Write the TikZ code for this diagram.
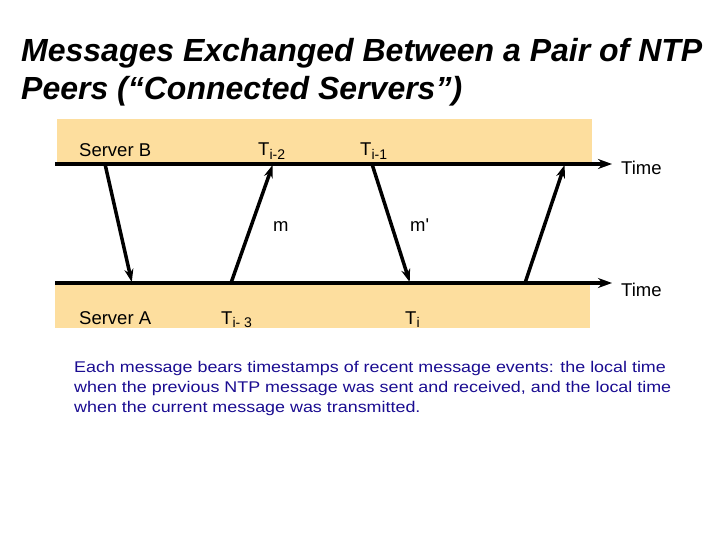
\documentclass[tikz,border=0pt]{standalone}
\usepackage{fontspec}
\setmainfont{Liberation Sans}
\setmonofont{Liberation Sans}
\newfontfamily\capfont[FakeStretch=1.155]{Liberation Sans}
\usetikzlibrary{arrows.meta}
\definecolor{band}{RGB}{253,222,158}
\definecolor{navy}{RGB}{26,12,145}
\begin{document}
\begin{tikzpicture}[x=1pt,y=-1pt,
  lbl/.style={inner sep=0pt,anchor=base west,font=\fontsize{18.5}{20}\selectfont},
  timeline/.style={line width=3.5pt,-{Stealth[length=14pt,width=10pt]}},
  msg/.style={line width=3.5pt,-{Stealth[length=13pt,width=9pt]},shorten >=1pt}]
\useasboundingbox (0,0) rectangle (720,540);
% title
\node[inner sep=0pt,anchor=base west,align=left,font=\fontsize{32}{38}\selectfont\bfseries\itshape] (title) at (21,100)
 {Messages Exchanged Between a Pair of NTP\\Peers (“Connected Servers”)};
% bands
\fill[band] (57,119) rectangle (592,164);
\fill[band] (55,283) rectangle (590,328);
% timelines
\coordinate (bl) at (55,164);
\coordinate (br) at (612,164);
\coordinate (al) at (55,283);
\coordinate (ar) at (612,283);
\draw[timeline] (bl) -- (br);
\draw[timeline] (al) -- (ar);
\node[lbl,anchor=west] (timeB) at (621,168) {Time};
\node[lbl,anchor=west] (timeA) at (621,290) {Time};
% labels
\node[lbl] (srvB) at (79,157) {Server B};
\node[lbl] (tim2) at (258,156) {T\raisebox{-3.5pt}{\fontsize{14}{14}\selectfont i-2}};
\node[lbl] (tim1) at (360,156) {T\raisebox{-3.5pt}{\fontsize{14}{14}\selectfont i-1}};
\node[lbl] (srvA) at (79,324) {Server A};
\node[lbl] (tim3) at (221,324) {T\raisebox{-3.5pt}{\fontsize{14}{14}\selectfont i- 3}};
\node[lbl] (ti) at (405,324) {T\raisebox{-3.5pt}{\fontsize{14}{14}\selectfont i}};
\node[lbl] (m) at (273,232) {m};
\node[lbl] (mp) at (410,232) {\ttfamily m'};
% message endpoints
\coordinate (b1) at (105,164); \coordinate (a1) at (132,283);
\coordinate (a2) at (231,283); \coordinate (b2) at (273,164);
\coordinate (b3) at (372,164); \coordinate (a3) at (410,283);
\coordinate (a4) at (525,283); \coordinate (b4) at (565,164);
\draw[msg] (b1) -- (a1);
\draw[msg] (a2) -- (b2);
\draw[msg] (b3) -- (a3);
\draw[msg] (a4) -- (b4);
% caption
\node[inner sep=0pt,anchor=base west,align=left,text=navy,font=\capfont\fontsize{15.5}{20}\selectfont] (cap) at (74,412)
 {Each message bears timestamps of recent message events: the local time\\
  when the previous NTP message was sent and received, and the local time\\
  when the current message was transmitted.};
\end{tikzpicture}
\end{document}
